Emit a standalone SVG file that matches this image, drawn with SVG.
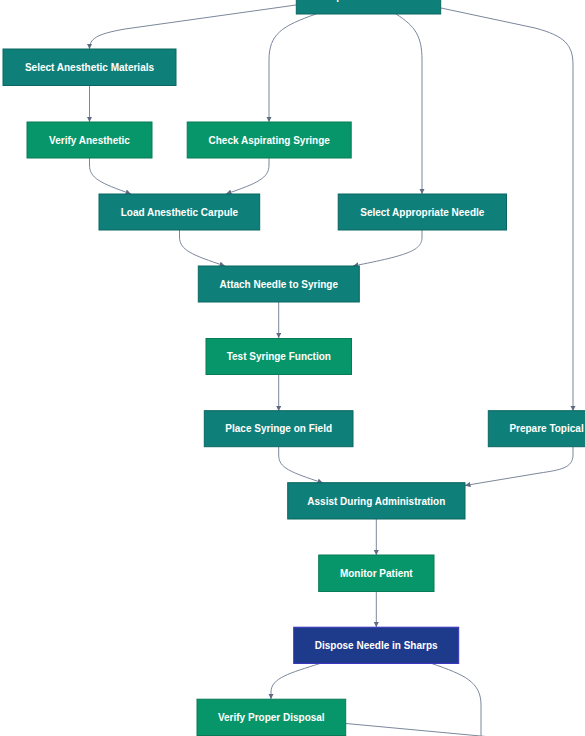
<svg xmlns="http://www.w3.org/2000/svg" width="585" height="736" viewBox="0 0 585 736">
<style>
  .bg{fill:#ffffff}
  .teal{fill:#0f7f7a;stroke:#0b6661;stroke-width:1}
  .green{fill:#079669;stroke:#0a7a57;stroke-width:1}
  .blue{fill:#1e3a8a;stroke:#3b35c4;stroke-width:1}
  .lbl{font-family:"Liberation Sans",Arial,sans-serif;font-size:10px;font-weight:bold;fill:#ffffff;text-anchor:middle;dominant-baseline:central}
  .edge{fill:none;stroke:#7b879b;stroke-width:1}
</style>
<defs>
  <marker id="arr" viewBox="0 0 10 10" refX="10" refY="5" markerWidth="5.5" markerHeight="5.5" markerUnits="userSpaceOnUse" orient="auto">
    <path d="M0,0 L10,5 L0,10 z" fill="#5f6b80"/>
  </marker>
</defs>
<rect class="bg" x="0" y="0" width="585" height="736"/>
<g id="connectors">
  <path class="edge" marker-end="url(#arr)" d="M296,5 L125,29 C96,34 89.5,39 89.5,49"/>
  <path class="edge" marker-end="url(#arr)" d="M316,14 C282,26 269,34 269,60 L269,122"/>
  <path class="edge" marker-end="url(#arr)" d="M396,14 C415,26 422,36 422,60 L422,194"/>
  <path class="edge" marker-end="url(#arr)" d="M441,8 L535,28 C565,36 573,45 573,65 L573,411"/>
  <path class="edge" marker-end="url(#arr)" d="M89.5,86 L89.5,122"/>
  <path class="edge" marker-end="url(#arr)" d="M89.5,158 L89.5,165 C89.5,178 100,183 131,194"/>
  <path class="edge" marker-end="url(#arr)" d="M269,158 L269,165 C269,178 258,183 226,194"/>
  <path class="edge" marker-end="url(#arr)" d="M179.5,230 L179.5,237 C179.5,250 192,255 225,266"/>
  <path class="edge" marker-end="url(#arr)" d="M422,230 L422,237 C422,250 410,255 353,266"/>
  <path class="edge" marker-end="url(#arr)" d="M278.7,302 L278.7,338"/>
  <path class="edge" marker-end="url(#arr)" d="M278.7,375 L278.7,411"/>
  <path class="edge" marker-end="url(#arr)" d="M278.7,447 L278.7,455 C278.7,468 290,472 323,483"/>
  <path class="edge" marker-end="url(#arr)" d="M573,447 L573,455 C573,468 560,470 540,473 L465,485.5"/>
  <path class="edge" marker-end="url(#arr)" d="M376.3,519 L376.3,555"/>
  <path class="edge" marker-end="url(#arr)" d="M376.3,591 L376.3,627"/>
  <path class="edge" marker-end="url(#arr)" d="M320,663.5 C290,673 271,678 271,692 L271,699"/>
  <path class="edge" d="M431.7,663.5 C465,675 481,682 481,705 L481,740"/>
  <path class="edge" d="M346,723.5 L486,736.5"/>
</g>
<g id="n_prepare_field"><rect class="teal" x="296.3" y="-22" width="144.4" height="36"/><text class="lbl" x="368.5" y="-3.5">Prepare Sterile Field</text></g>
<g id="n_select_materials"><rect class="teal" x="3" y="49" width="173" height="36.5"/><text class="lbl" x="89.5" y="67.5">Select Anesthetic Materials</text></g>
<g id="n_verify_anesthetic"><rect class="green" x="27" y="122" width="125" height="36"/><text class="lbl" x="89.5" y="140">Verify Anesthetic</text></g>
<g id="n_check_syringe"><rect class="green" x="187.2" y="122" width="164" height="36"/><text class="lbl" x="269.2" y="140">Check Aspirating Syringe</text></g>
<g id="n_load_carpule"><rect class="teal" x="99" y="194" width="160.7" height="36"/><text class="lbl" x="179.4" y="212">Load Anesthetic Carpule</text></g>
<g id="n_select_needle"><rect class="teal" x="338.2" y="194" width="168.3" height="36"/><text class="lbl" x="422.3" y="212">Select Appropriate Needle</text></g>
<g id="n_attach_needle"><rect class="teal" x="198.3" y="266" width="161" height="36"/><text class="lbl" x="278.8" y="284">Attach Needle to Syringe</text></g>
<g id="n_test_syringe"><rect class="green" x="206" y="338.5" width="145.5" height="36"/><text class="lbl" x="278.8" y="356.5">Test Syringe Function</text></g>
<g id="n_place_syringe"><rect class="teal" x="204.3" y="410.7" width="148.7" height="36"/><text class="lbl" x="278.7" y="428.7">Place Syringe on Field</text></g>
<g id="n_prepare_topical"><rect class="teal" x="488.3" y="410.7" width="170" height="36"/><text class="lbl" x="573.3" y="428.7">Prepare Topical Anesthetic</text></g>
<g id="n_assist"><rect class="teal" x="287.7" y="482.7" width="177.3" height="36.3"/><text class="lbl" x="376.3" y="501">Assist During Administration</text></g>
<g id="n_monitor"><rect class="green" x="318.7" y="555" width="115.3" height="36.5"/><text class="lbl" x="376.3" y="573.2">Monitor Patient</text></g>
<g id="n_dispose"><rect class="blue" x="293.7" y="627.2" width="165" height="36.3"/><text class="lbl" x="376.2" y="645.3">Dispose Needle in Sharps</text></g>
<g id="n_verify_disposal"><rect class="green" x="197" y="699.2" width="148.7" height="36.3"/><text class="lbl" x="271.3" y="717.3">Verify Proper Disposal</text></g>
</svg>
